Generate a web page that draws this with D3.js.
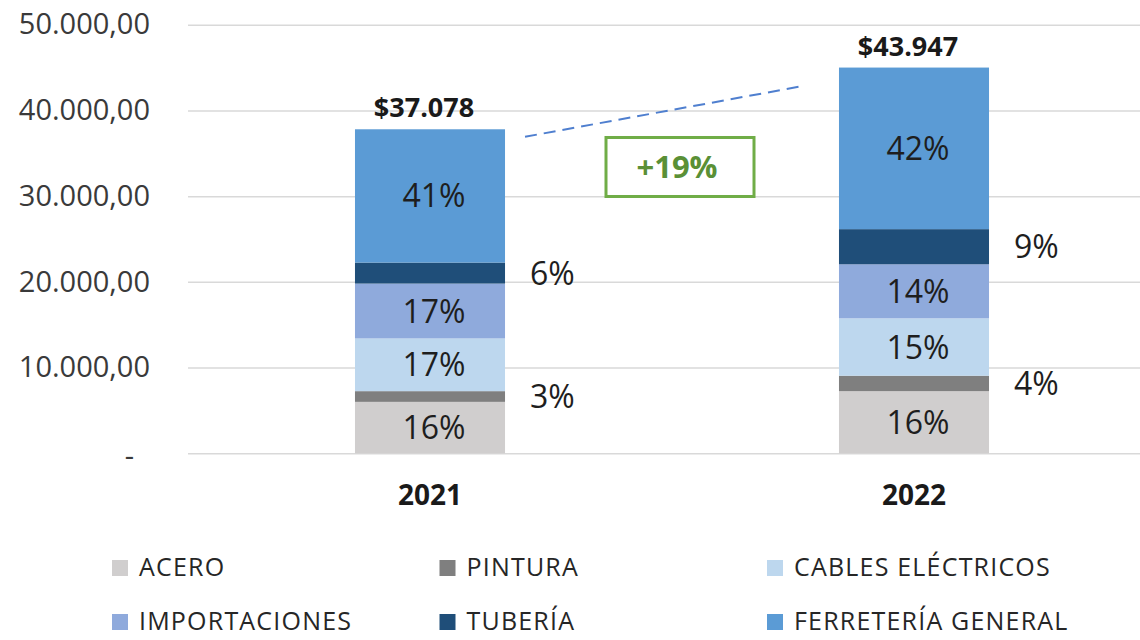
<!DOCTYPE html>
<html>
<head>
<meta charset="utf-8">
<script src="https://cdn.jsdelivr.net/npm/d3@7"></script>
<style>
    body { margin: 0; background: #fff; }
    svg { display: block; font-family: "Open Sans", "Noto Sans", sans-serif; }
</style>
</head>
<body>
<svg id="canvas" width="1140" height="640"></svg>
<script>
// data
var years = ['2021', '2022'];
var seriesNames = ['ACERO', 'PINTURA', 'CABLES ELÉCTRICOS', 'IMPORTACIONES', 'TUBERÍA', 'FERRETERÍA GENERAL'];
var seriesColors = ['#d0cece', '#7f7f7f', '#bdd7ee', '#8faadc', '#1f4e79', '#5b9bd5'];

var acero = [6000, 7250];
var pintura = [1250, 1800];
var cables = [6150, 6700];
var importaciones = [6400, 6300];
var tuberia = [2450, 4100];
var ferreteria = [15550, 18850];

var pctAcero = ['16%', '16%'];
var pctPintura = ['3%', '4%'];
var pctCables = ['17%', '15%'];
var pctImportaciones = ['17%', '14%'];
var pctTuberia = ['6%', '9%'];
var pctFerreteria = ['41%', '42%'];

var totalLabels = ['$37.078', '$43.947'];
var growthLabel = '+19%';
var yTicks = [0, 10000, 20000, 30000, 40000, 50000];

// labels of thin segments go outside, to the right of the bar
var outsideLabel = [false, true, false, false, true, false];

var seriesValues = [acero, pintura, cables, importaciones, tuberia, ferreteria];
var seriesPct = [pctAcero, pctPintura, pctCables, pctImportaciones, pctTuberia, pctFerreteria];

var rows = years.map(function(yr, i) {
    var r = { year: yr };
    seriesNames.forEach(function(s, k) { r[s] = seriesValues[k][i]; });
    return r;
});

var svg = d3.select('#canvas'),
    W = 1140;

var x = d3.scaleBand()
    .domain(years)
    .range([188, 1156])
    .paddingInner(0.69)
    .paddingOuter(0.345);

var y = d3.scaleLinear()
    .domain([0, 50000])
    .range([453.3, 24.7]);

var loc = d3.formatLocale({ decimal: ',', thousands: '.', grouping: [3], currency: ['$', ''] }),
    fmt = loc.format(',.2f');

// y axis + gridlines
//
var yAxis = svg.append('g')
    .attr('class', 'y-axis')
    .attr('transform', 'translate(' + x.range()[0] + ',0)')
    .call(d3.axisLeft(y)
        .tickValues(yTicks)
        .tickSize(-(W - x.range()[0]))
        .tickPadding(38)
        .tickFormat(function(d) { return d === 0 ? '-' : fmt(d); }));

yAxis.select('.domain').remove();
yAxis.selectAll('line')
    .attr('stroke', '#d9d9d9')
    .attr('stroke-width', 1.5);
yAxis.selectAll('text')
    .attr('fill', '#3a3a3a')
    .style('font-size', '29px')
    .style('font-family', '"Open Sans", sans-serif');
yAxis.selectAll('.tick')
    .filter(function(d) { return d === 0; })
    .select('text')
    .attr('dx', -16)
    .attr('dy', '0.42em');

// x axis labels
//
var xAxis = svg.append('g')
    .attr('class', 'x-axis')
    .attr('transform', 'translate(0,' + y(0) + ')')
    .call(d3.axisBottom(x).tickSize(0).tickPadding(32));

xAxis.select('.domain').remove();
xAxis.selectAll('text')
    .attr('fill', '#1a1a1a')
    .style('font-size', '28px')
    .style('font-weight', 700)
    .style('font-family', '"Open Sans", sans-serif');

// stacked bars
//
var stacked = d3.stack().keys(seriesNames)(rows);

var layers = svg.append('g')
    .attr('class', 'bars')
    .selectAll('g')
    .data(stacked)
    .enter().append('g')
        .attr('fill', function(d, k) { return seriesColors[k]; });

layers.selectAll('rect')
    .data(function(d) { return d; })
    .enter().append('rect')
        .attr('x', function(d) { return x(d.data.year); })
        .attr('width', x.bandwidth())
        .attr('y', function(d) { return y(d[1]); })
        .attr('height', function(d) { return y(d[0]) - y(d[1]); });

// segment labels
//
var labels = svg.append('g').attr('class', 'seg-labels');

stacked.forEach(function(layer, k) {
    layer.forEach(function(d, i) {
        var mid = (y(d[0]) + y(d[1])) / 2,
            out = outsideLabel[k];
        labels.append('text')
            .attr('x', out ? x(d.data.year) + x.bandwidth() + 25 : x(d.data.year) + x.bandwidth() / 2 + 4)
            .attr('y', mid)
            .attr('dy', '0.36em')
            .attr('text-anchor', out ? 'start' : 'middle')
            .attr('fill', '#1e1e1e')
            .style('font-size', '32px')
            .text(seriesPct[k][i]);
    });
});

// totals on top of bars
//
var totals = rows.map(function(r) {
    return d3.sum(seriesNames, function(s) { return r[s]; });
});

svg.append('g')
    .attr('class', 'totals')
    .selectAll('text')
    .data(years)
    .enter().append('text')
        .attr('x', function(d) { return x(d) + x.bandwidth() / 2 - 6; })
        .attr('y', function(d, i) { return y(totals[i]) - 12; })
        .attr('text-anchor', 'middle')
        .attr('fill', '#1a1a1a')
        .style('font-size', '27px')
        .style('font-weight', 700)
        .text(function(d, i) { return totalLabels[i]; });

// growth annotation: dashed trend line + boxed label
//
var x0 = x(years[0]) + x.bandwidth(),
    x1 = x(years[1]);

svg.append('line')
    .attr('x1', x0 + 20)
    .attr('y1', y(totals[0]) + 7.5)
    .attr('x2', x1 - 39)
    .attr('y2', y(totals[1]) + 19)
    .attr('stroke', '#4f7fcf')
    .attr('stroke-width', 2)
    .attr('stroke-dasharray', '12,7');

var boxCx = (x0 + x1) / 2 + 8,
    boxCy = y(33400);

svg.append('rect')
    .attr('x', boxCx - 74)
    .attr('y', boxCy - 29.5)
    .attr('width', 148)
    .attr('height', 59)
    .attr('fill', '#fff')
    .attr('stroke', '#70ad47')
    .attr('stroke-width', 3);

svg.append('text')
    .attr('x', boxCx - 3)
    .attr('y', boxCy)
    .attr('dy', '0.36em')
    .attr('text-anchor', 'middle')
    .attr('fill', '#5a9036')
    .style('font-size', '31px')
    .style('font-weight', 700)
    .text(growthLabel);

// legend
//
var legend = svg.append('g')
    .attr('class', 'legend')
    .selectAll('g')
    .data(seriesNames)
    .enter().append('g')
        .attr('transform', function(d, k) {
            return 'translate(' + (112 + (k % 3) * 327.5) + ',' + (560 + Math.floor(k / 3) * 54) + ')';
        });

legend.append('rect')
    .attr('width', 16)
    .attr('height', 16)
    .attr('fill', function(d, k) { return seriesColors[k]; });

legend.append('text')
    .attr('x', 27)
    .attr('y', 16)
    .attr('fill', '#262626')
    .style('font-size', '25px')
    .style('letter-spacing', '1.2px')
    .text(function(d) { return d; });
</script>
</body>
</html>
